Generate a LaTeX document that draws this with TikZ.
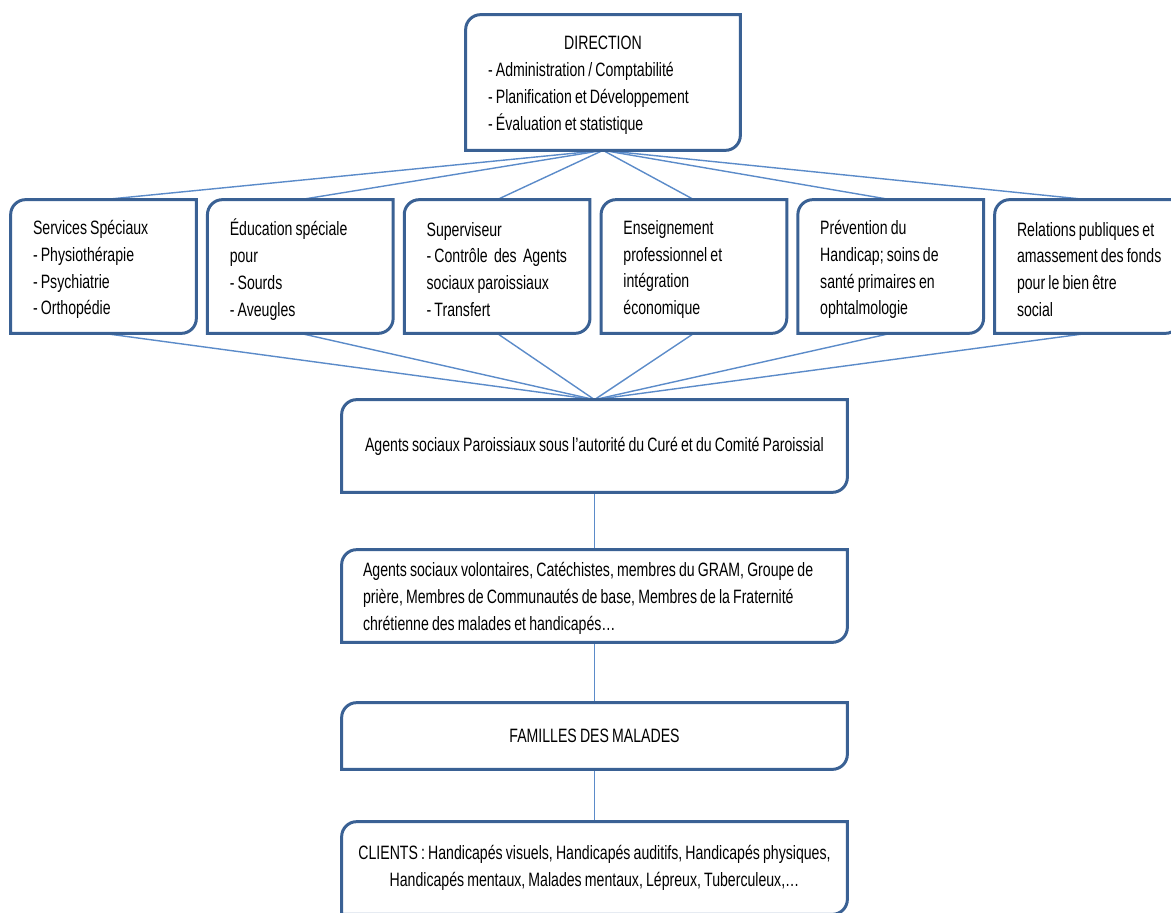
\documentclass[tikz,border=0pt]{standalone}
\usepackage{fontspec}
\setmainfont[FakeStretch=0.73, WordSpace=0.8]{Liberation Sans}
\definecolor{bordure}{HTML}{3A6194}
\definecolor{trait}{HTML}{5B8BC9}
\tikzset{
  boite/.style={inner sep=0pt, align=left, font=\fontsize{11}{15.3}\selectfont},
  bordure/.style={draw=bordure, line width=1.7pt},
  trait/.style={draw=trait, line width=0.8pt},
}

\begin{document}
\begin{tikzpicture}

            \useasboundingbox (0,0) rectangle (23.42,-18.24);

            % Direction
            \node[boite, minimum width=5.48cm, minimum height=2.7cm] (dir) at (12.06,-1.65) {};
            \node[boite] (dirtitre) at ([yshift=-0.56cm]dir.north) {DIRECTION};
            \node[boite, anchor=west] (dirliste) at ([xshift=0.44cm,yshift=-0.31cm]dir.west)
                {- Administration / Comptabilité\\
                 - Planification et Développement\\
                 - Évaluation et statistique};

            % Services (rangée du haut)
            \foreach \i/\txt in {
                1/{Services Spéciaux\\- Physiothérapie\\- Psychiatrie\\- Orthopédie},
                2/{Éducation spéciale\\pour\\- Sourds\\- Aveugles},
                3/{Superviseur\\- Contrôle\ \ des\ \ Agents\\sociaux paroissiaux\\- Transfert},
                4/{Enseignement\\professionnel et\\intégration\\économique},
                5/{Prévention du\\Handicap; soins de\\santé primaires en\\ophtalmologie},
                6/{Relations publiques et\\amassement des fonds\\pour le bien être\\social}} {
                \node[boite, minimum width=3.7cm, minimum height=2.66cm]
                    (s\i) at ({2.07+3.936*(\i-1)},-5.33) {};
                \node[boite, anchor=west] (t\i) at ([xshift=0.44cm,yshift=-0.06cm]s\i.west) {\txt};
            }

            % Niveaux inférieurs
            \node[boite, minimum width=10.1cm, minimum height=1.84cm] (ag) at (11.89,-8.92)
                {Agents sociaux Paroissiaux sous l’autorité du Curé et du Comité Paroissial};
            \node[boite, minimum width=10.1cm, minimum height=1.84cm] (vol) at (11.89,-11.92) {};
            \node[boite, anchor=west] (voltxt) at ([xshift=0.42cm,yshift=-0.04cm]vol.west)
                {Agents sociaux volontaires, Catéchistes, membres du GRAM, Groupe de\\
                 prière, Membres de Communautés de base, Membres de la Fraternité\\
                 chrétienne des malades et handicapés…};
            \node[boite, minimum width=10.1cm, minimum height=1.32cm] (fam) at (11.89,-14.72)
                {FAMILLES DES MALADES};
            \node[boite, align=center, minimum width=10.1cm, minimum height=1.84cm] (cli) at (11.89,-17.36)
                {CLIENTS : Handicapés visuels, Handicapés auditifs, Handicapés physiques,\\
                 Handicapés mentaux, Malades mentaux, Lépreux, Tuberculeux,…};

            % Liens
            \foreach \i in {1,...,6} {
                \draw[trait] (dir.south) -- (s\i.north);
                \draw[trait] (s\i.south) -- (ag.north);
            }
            \draw[trait] (ag.south) -- (vol.north);
            \draw[trait] (vol.south) -- (fam.north);
            \draw[trait] (fam.south) -- (cli.north);

            % Cadres (coins arrondis en diagonale)
            \foreach \n in {dir,s1,s2,s3,s4,s5,s6,ag,vol,fam,cli} {
                \draw[bordure] (\n.west) [rounded corners=0.3cm] -- (\n.north west) -- (\n.north)
                    [sharp corners] -- (\n.north east) -- (\n.east)
                    [rounded corners=0.3cm] -- (\n.south east) -- (\n.south)
                    [sharp corners] -- (\n.south west) -- cycle;
            }

\end{tikzpicture}
\end{document}
